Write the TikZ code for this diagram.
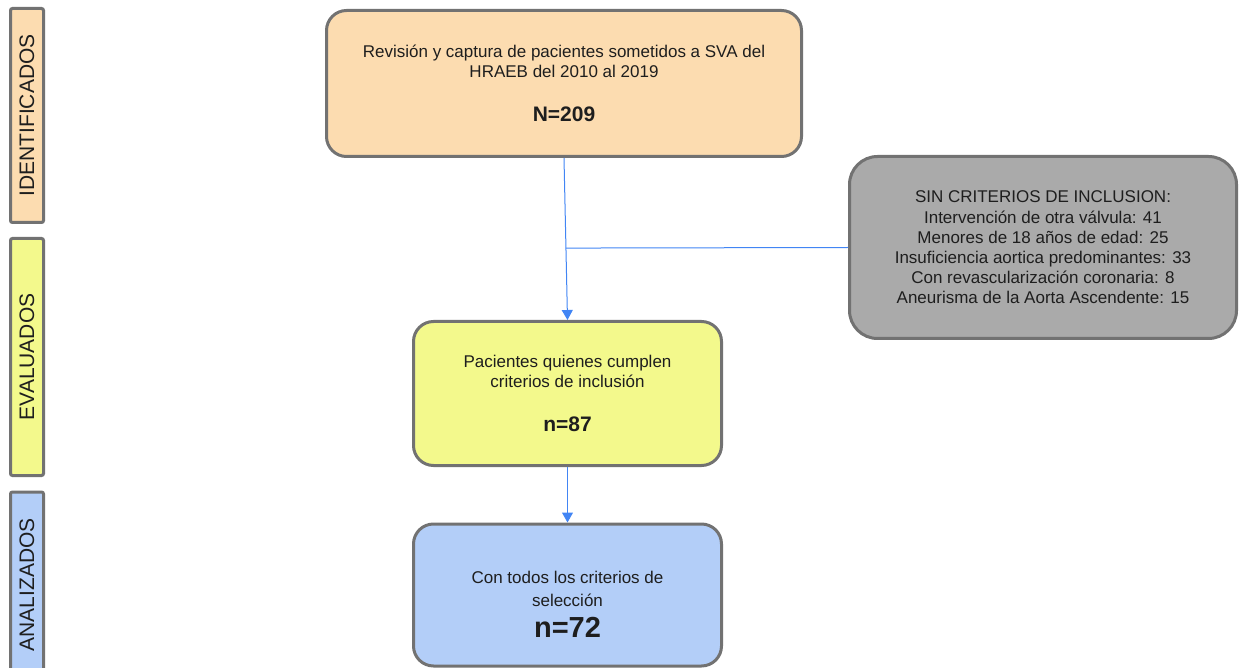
\documentclass[tikz,border=0pt]{standalone}
\usepackage{fontspec}
\setmainfont{Liberation Sans}
\usetikzlibrary{arrows.meta,calc}
\definecolor{peach}{HTML}{FCDCB0}
\definecolor{lyellow}{HTML}{F3F98C}
\definecolor{lblue}{HTML}{B3CEF8}
\definecolor{mgray}{HTML}{AAAAAA}
\definecolor{bord}{HTML}{727272}
\definecolor{arrblue}{HTML}{4285F4}
\definecolor{txtc}{HTML}{1E1E1E}
\begin{document}
\begin{tikzpicture}[x=1pt,y=-1pt,
  box/.style={draw=bord, line width=3pt, rounded corners=20pt, align=center, text=txtc,
    font=\fontsize{17}{20}\selectfont, inner sep=0pt},
  sidebox/.style={draw=bord, line width=3pt, rounded corners=2pt, rotate=90, text=txtc,
    font=\fontsize{21}{25}\selectfont, inner sep=0pt, minimum height=33pt},
  plain/.style={align=center, text=txtc, inner sep=0pt},
  flow/.style={draw=arrblue, line width=1pt},
  arr/.style={flow, -{Triangle[length=10pt,width=11pt]}},
  bignum/.style={font=\fontsize{21}{25}\selectfont\bfseries}]
\useasboundingbox (0,0) rectangle (1240,668);

% side labels
\node[sidebox, fill=peach, minimum width=214pt] (sid1) at (27,115.5) {IDENTIFICADOS};
\node[sidebox, fill=lyellow, minimum width=237pt] (sid2) at (27,357) {EVALUADOS};
\node[sidebox, fill=lblue, minimum width=186pt] (sid3) at (27,585) {ANALIZADOS};

% main boxes
\node[box, fill=peach, minimum width=475pt, minimum height=146pt] (revision) at (564,83.5)
  {Revisión y captura de pacientes sometidos a SVA del\\HRAEB del 2010 al 2019\\[24pt]{\bfseries\fontsize{21}{25}\selectfont N=209}};

\node[box, fill=mgray, rounded corners=28pt, minimum width=387pt, minimum height=182pt,
  font=\fontsize{17}{20.2}\selectfont] (excl) at (1043,247.5)
  {SIN CRITERIOS DE INCLUSION:\\Intervención de otra válvula: 41\\Menores de 18 años de edad: 25\\Insuficiencia aortica predominantes: 33\\Con revascularización coronaria: 8\\Aneurisma de la Aorta Ascendente: 15};

\node[box, fill=lyellow, minimum width=308pt, minimum height=144pt] (incl) at (567.5,393.5)
  {Pacientes quienes cumplen\\criterios de inclusión\\[24pt]{\bfseries\fontsize{21}{25}\selectfont n=87}};

\node[box, fill=lblue, minimum width=308pt, minimum height=142pt] (anal) at (567.5,595) {};
\node[plain, font=\fontsize{17}{23}\selectfont] (analtxt) at (567.5,604)
  {Con todos los criterios de\\selección\\[8pt]{\bfseries\fontsize{29}{32}\selectfont n=72}};

% connectors
\coordinate (junc) at ($(revision.south)!0.556!(incl.north)$);
\draw[arr] (revision.south) -- (incl.north);
\draw[flow] (junc) -- (excl.west);
\draw[arr] (incl.south) -- (anal.north);
\end{tikzpicture}
\end{document}
